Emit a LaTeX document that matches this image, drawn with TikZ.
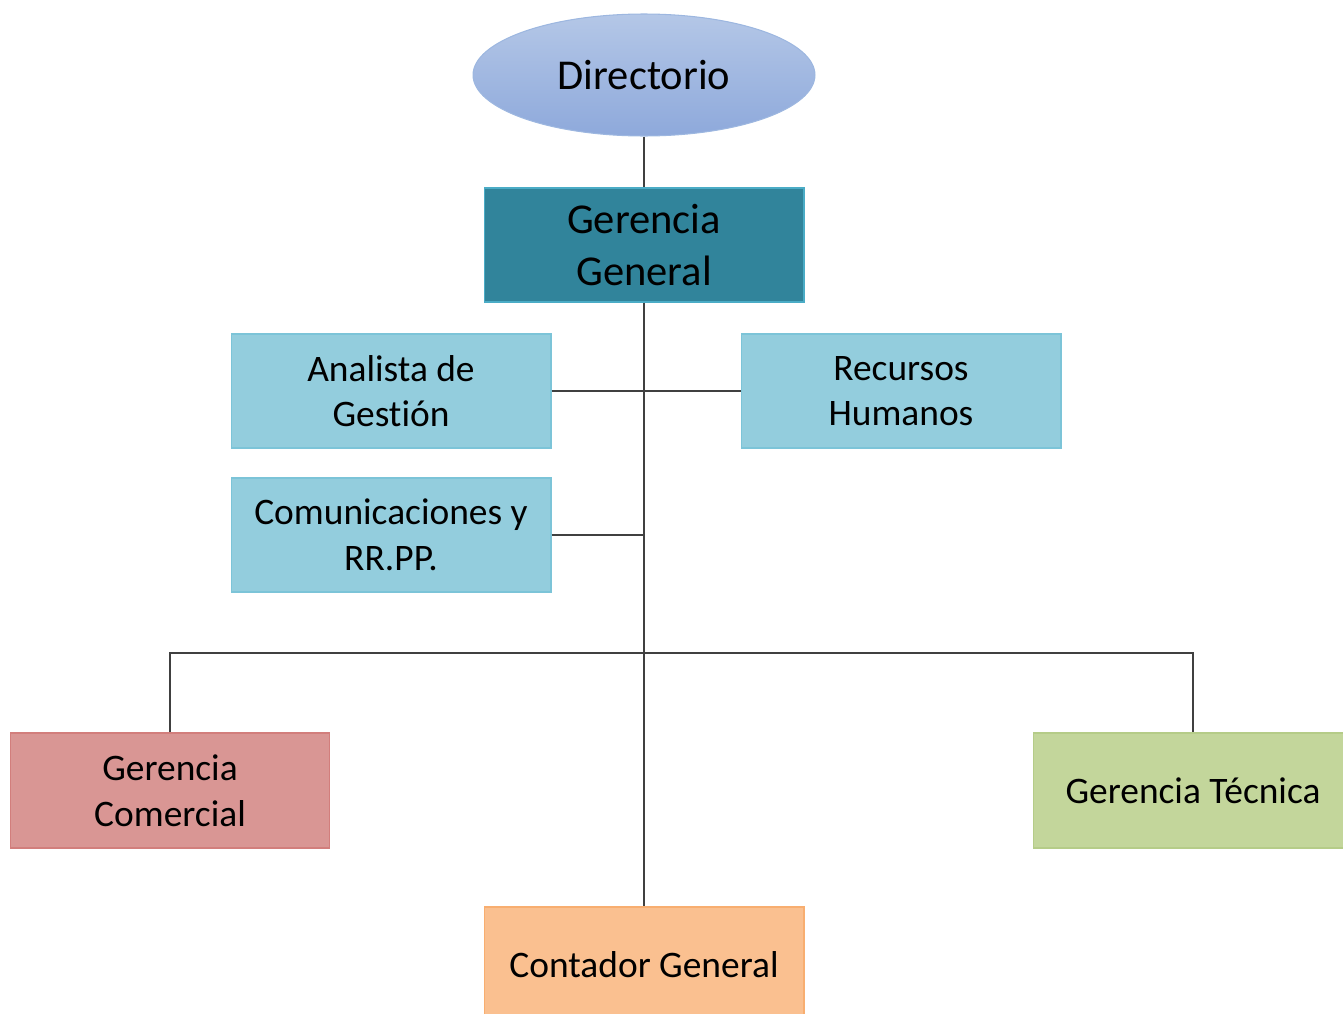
\documentclass[tikz,border=0pt]{standalone}
\usepackage{fontspec}
\setmainfont[Ligatures={NoCommon}]{Carlito}
\usetikzlibrary{shapes.geometric}
\definecolor{elltop}{HTML}{B4C7E7}
\definecolor{ellbot}{HTML}{8EA9DB}
\definecolor{ellline}{HTML}{9DB7E0}
\definecolor{tealfill}{HTML}{31849B}
\definecolor{tealline}{HTML}{4BACC6}
\definecolor{lblue}{HTML}{93CDDD}
\definecolor{lblueline}{HTML}{7CC4D8}
\definecolor{rose}{HTML}{D99694}
\definecolor{roseline}{HTML}{D27E7C}
\definecolor{lgreen}{HTML}{C3D69B}
\definecolor{lgreenline}{HTML}{B5CC88}
\definecolor{peach}{HTML}{FAC090}
\definecolor{peachline}{HTML}{F8AE70}
\definecolor{linkcol}{HTML}{404040}

\begin{document}
\begin{tikzpicture}[x=0.02cm,y=-0.02cm]
\tikzstyle{every node}+=[inner sep=0pt, align=center, text=black]
\tikzstyle{box}=[rectangle, minimum width=6.4cm, minimum height=2.3cm, line width=0.6pt, font=\fontsize{21.3}{26}\selectfont]
\tikzstyle{link}=[draw=linkcol, line width=0.8pt]
\useasboundingbox (0,0) rectangle (1343,1014);
\clip (0,0) rectangle (1343,1014);
% top
\node [ellipse, minimum width=6.84cm, minimum height=2.44cm, top color=elltop, bottom color=ellbot, draw=ellline, line width=0.6pt, font=\fontsize{24.2}{29.5}\selectfont] (dir) at (644,75) {Directorio};
\node [box, minimum height=2.28cm, fill=tealfill, draw=tealline, font=\fontsize{24.2}{29.5}\selectfont] (gg) at (644,245) {Gerencia\\General};
% staff
\node [box, minimum height=2.28cm, fill=lblue, draw=lblueline] (ana) at (391,391) {Analista de\\Gestión};
\node [box, minimum height=2.28cm, fill=lblue, draw=lblueline] (rrhh) at (901,391) {Recursos\\Humanos};
\node [box, minimum height=2.28cm, fill=lblue, draw=lblueline] (com) at (391,535) {Comunicaciones y\\RR.PP.};
% line
\node [box, fill=rose, draw=roseline] (gc) at (170,790.5) {Gerencia\\Comercial};
\node [box, fill=lgreen, draw=lgreenline] (gt) at (1193,790.5) {Gerencia Técnica};
\node [box, fill=peach, draw=peachline] (cont) at (644,964.5) {Contador General};
\coordinate (bus) at (644,653);
% links
\draw [link] (dir) -- (gg);
\draw [link] (gg) -- (cont);
\draw [link] (ana) -- (rrhh);
\draw [link] (com.east) -- (com.east -| gg.south);
\draw [link] (gc) |- (bus) -| (gt);
\end{tikzpicture}
\end{document}
